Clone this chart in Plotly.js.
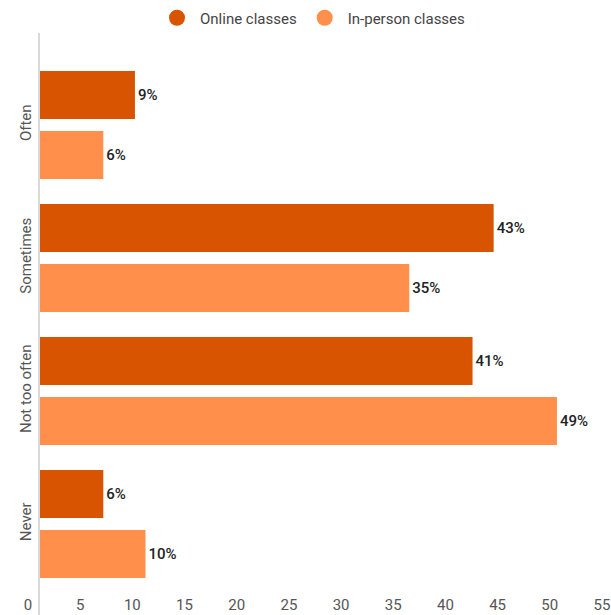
<!DOCTYPE html>
<html>
<head>
<meta charset="utf-8">
<script src="https://cdn.plot.ly/plotly-3.0.1.min.js"></script>
<style>html,body{margin:0;padding:0;background:#fff;}#chart{width:611px;height:615px;}</style>
</head>
<body>
<div id="chart"></div>
<script>
const categories = ["Often", "Sometimes", "Not too often", "Never"];
const onlineValues = [9, 43, 41, 6];
const inPersonValues = [6, 35, 49, 10];
const onlineLabels = ["9%", "43%", "41%", "6%"];
const inPersonLabels = ["6%", "35%", "49%", "10%"];
const seriesNames = ["Online classes", "In-person classes"];
const xTickValues = [0, 5, 10, 15, 20, 25, 30, 35, 40, 45, 50, 55];

const darkOrange = "#D95400";
const lightOrange = "#FF8F4A";
const W = 611, H = 615;
const mL = 20, mR = 0, mT = 33, mB = 0;
const plotW = W - mL - mR, plotH = H - mT - mB;

const labelFont = {family: "Roboto, sans-serif", size: 15, color: "#222", weight: 500};

const traces = [
  {type: "bar", orientation: "h", name: seriesNames[0], y: categories, x: onlineValues,
   text: onlineLabels, textposition: "outside", textfont: labelFont, cliponaxis: false,
   marker: {color: darkOrange}, showlegend: false, hoverinfo: "none"},
  {type: "bar", orientation: "h", name: seriesNames[1], y: categories, x: inPersonValues,
   text: inPersonLabels, textposition: "outside", textfont: labelFont, cliponaxis: false,
   marker: {color: lightOrange}, showlegend: false, hoverinfo: "none"},
  {type: "scatter", mode: "markers", name: seriesNames[0], x: [null], y: [null],
   marker: {color: darkOrange, size: 20, symbol: "circle"}, hoverinfo: "none"},
  {type: "scatter", mode: "markers", name: seriesNames[1], x: [null], y: [null],
   marker: {color: lightOrange, size: 20, symbol: "circle"}, hoverinfo: "none"},
  // holder so the value-label axis is drawn
  {type: "scatter", mode: "markers", xaxis: "x2", yaxis: "y", x: [], y: [],
   showlegend: false, hoverinfo: "none"}
];

const layout = {
  width: W, height: H,
  margin: {l: mL, r: mR, t: mT, b: mB, pad: 0},
  paper_bgcolor: "#fff", plot_bgcolor: "rgba(0,0,0,0)",
  font: {family: "Roboto, sans-serif", size: 15, color: "#555"},
  barmode: "group", bargap: 0.0977, bargroupgap: 0.2,
  showlegend: true,
  legend: {orientation: "h", x: (312 - mL) / plotW, xanchor: "center", xref: "paper",
           y: 1 + (mT - 18) / plotH, yanchor: "middle",
           font: {family: "Roboto, sans-serif", size: 15, color: "#444"},
           itemsizing: "trace", itemwidth: 36, bgcolor: "rgba(0,0,0,0)"},
  xaxis: {domain: [(40 - mL) / plotW, 1], range: [0, 571 / 10.55],
          showticklabels: false, showgrid: false, zeroline: false, showline: false, fixedrange: true},
  xaxis2: {anchor: "free", position: (H - 594) / plotH,
           domain: [(28 - mL) / plotW, 1], range: [0, 583 / 10.436],
           tickvals: xTickValues, ticktext: xTickValues.map(String), ticks: "",
           showgrid: false, zeroline: false, showline: false, fixedrange: true,
           tickfont: {family: "Roboto, sans-serif", size: 15, color: "#555"}},
  yaxis: {type: "category", categoryorder: "array", categoryarray: categories,
          range: [3.5 + (H - 590.5) / 133, -0.5 - (58.5 - mT) / 133],
          showline: true, linecolor: "#d9d9d9", linewidth: 2,
          showgrid: false, zeroline: false, ticks: "", tickangle: -90,
          ticklabelstandoff: 1,
          tickfont: {family: "Roboto, sans-serif", size: 15, color: "#555"}}
};

Plotly.newPlot("chart", traces, layout, {staticPlot: true, displayModeBar: false});
</script>
</body>
</html>
